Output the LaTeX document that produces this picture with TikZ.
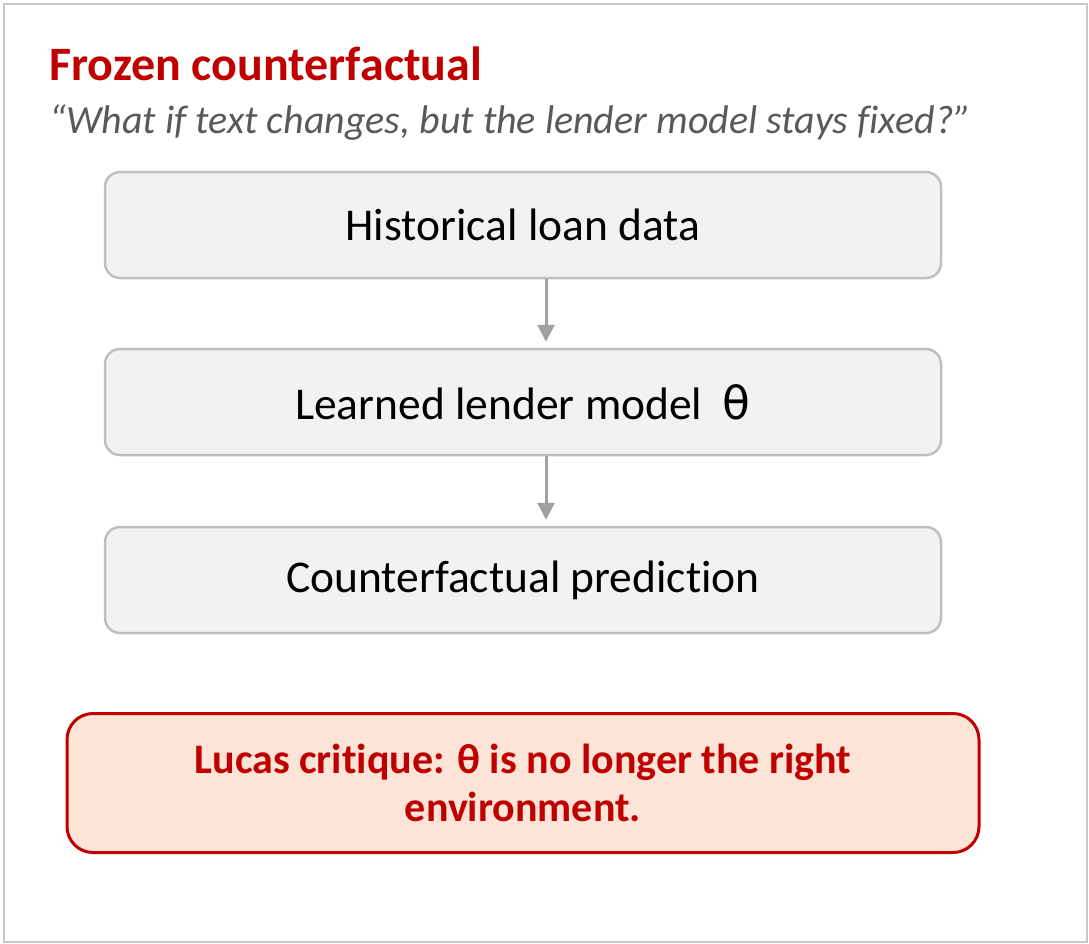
\documentclass[tikz,border=0pt]{standalone}
\usepackage{fontspec}
\setmainfont{Carlito}[Ligatures=NoCommon]
\newfontfamily\symfont{DejaVu Sans}
\usetikzlibrary{arrows.meta}
\definecolor{critred}{HTML}{C00000}
\definecolor{subgray}{HTML}{595959}
\definecolor{boxfill}{HTML}{F2F2F2}
\definecolor{boxline}{HTML}{BFBFBF}
\definecolor{warnfill}{HTML}{FCE4D6}
\definecolor{arrowgray}{HTML}{A0A0A0}
\definecolor{framegray}{HTML}{C8C8C8}
\tikzset{
  stepbox/.style={draw=boxline, line width=2.5pt, fill=boxfill, rounded corners=15pt,
    minimum width=836pt, minimum height=106pt, inner sep=0pt,
    font=\fontsize{45.5}{54}\selectfont, text=black},
  warnbox/.style={draw=critred, line width=3pt, fill=warnfill, rounded corners=26pt,
    minimum width=912pt, minimum height=139pt, inner sep=0pt, align=center,
    font=\bfseries\fontsize{42}{48}\selectfont, text=critred},
  flow/.style={draw=arrowgray, line width=3pt, -{Triangle[length=17pt,width=17pt]}, shorten >=6pt}
}
\begin{document}
\begin{tikzpicture}[x=1pt,y=-1pt]
  \useasboundingbox (0,0) rectangle (1089,943);
  \draw[framegray, line width=2pt] (3.5,3.5) rectangle (1086.5,941.5);

  \node[anchor=base west, inner sep=0pt, text=critred, font=\bfseries\fontsize{48}{56}\selectfont]
    (title) at (49,80) {Frozen counterfactual};
  \node[anchor=base west, inner sep=0pt, text=subgray, font=\itshape\fontsize{40}{46}\selectfont]
    (subtitle) at (49,133) {“What if text changes, but the lender model stays fixed?”};

  \node[stepbox] (hist) at (523,225) {Historical loan data};
  \node[stepbox] (learn) at (523,402) {Learned lender model\ \ {\symfont θ}};
  \node[stepbox] (pred) at (523,580) {Counterfactual prediction};

  \coordinate (ax) at (546,0);
  \draw[flow] (hist.south -| ax) -- (learn.north -| ax);
  \draw[flow] (learn.south -| ax) -- (pred.north -| ax);

  \node[warnbox] (lucas) at (523,783) {Lucas critique: θ is no longer the right\\environment.};
\end{tikzpicture}
\end{document}
